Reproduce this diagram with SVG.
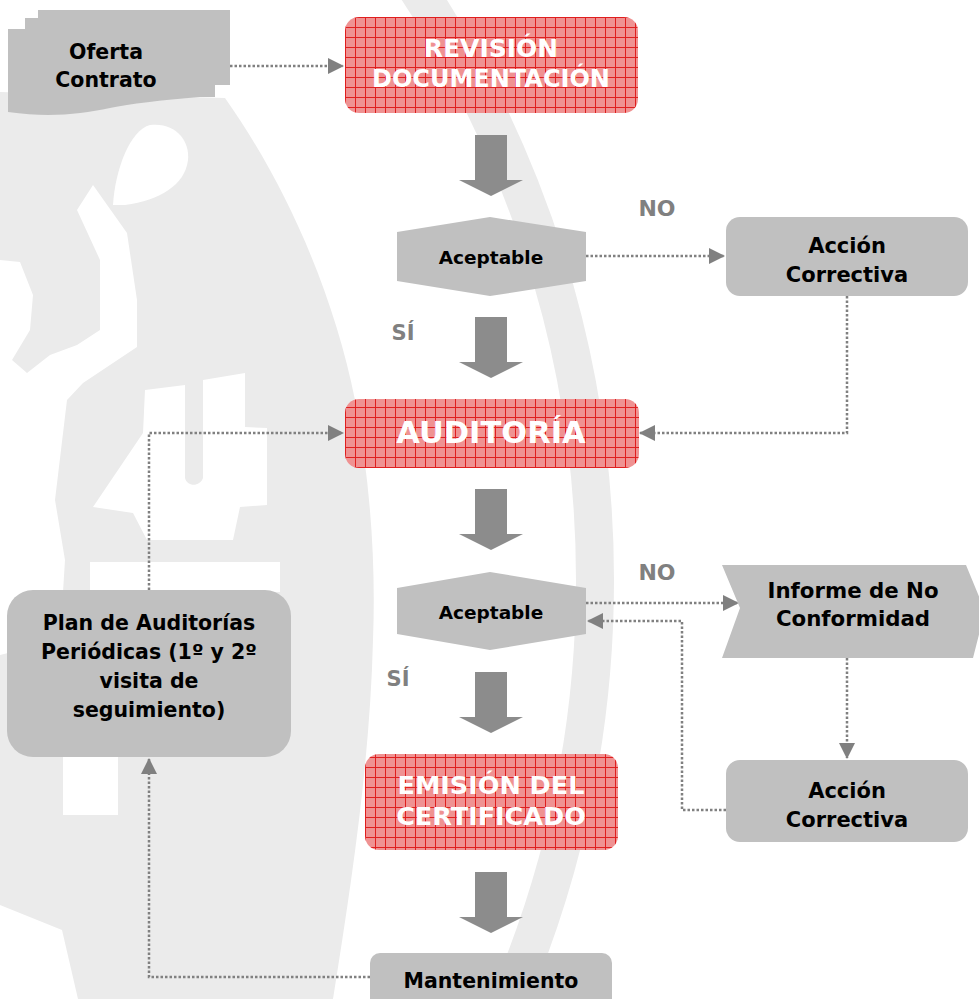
<svg xmlns="http://www.w3.org/2000/svg" width="979" height="999" viewBox="0 0 979 999">
<defs>
<pattern id="grid" patternUnits="userSpaceOnUse" width="10" height="10" x="345" y="17">
<rect width="10" height="10" fill="#ef9292"/>
<rect x="0" y="0" width="10" height="1" fill="#e01e1e"/>
<rect x="0" y="0" width="1" height="10" fill="#e01e1e"/>
</pattern>
<marker id="ah" markerUnits="userSpaceOnUse" markerWidth="16" markerHeight="16" refX="15" refY="8" orient="auto">
<path d="M0,0 L16,8 L0,16 Z" fill="#808080"/>
</marker>
</defs>
<style>
.n{fill:#c0c0c0}
.r{fill:url(#grid)}
.t{font-family:"DejaVu Sans",Verdana,sans-serif;font-weight:bold;text-anchor:middle;fill:#000}
.w{fill:#fff}
.lab{font-family:"DejaVu Sans",Verdana,sans-serif;font-weight:bold;text-anchor:middle;fill:#808080}
.c{fill:none;stroke:#808080;stroke-width:2.5;stroke-dasharray:2.5 2;marker-end:url(#ah)}
.ba{fill:#8c8c8c}
.wm{fill:#ebebeb}
</style>
<rect width="979" height="999" fill="#fff"/>
<g id="watermark">
<circle cx="-475" cy="580" r="1070" fill="none" stroke="#ebebeb" stroke-width="38"/>
<path class="wm" d="M0,92 L225,98 C290,190 335,300 355,400 C370,480 376,560 373,640 C370,760 352,880 333,999 L78,999 L62,930 L0,905 L0,655 L60,640 L65,560 L55,500 L67,400 L83,383 L137,347 L137,300 L127,233 L93,185 L77,210 L100,260 L100,330 L77,345 L50,355 L27,373 L12,360 L30,330 L33,295 L20,262 L0,260 Z"/>
<path class="w" d="M113,205 C115,170 130,130 150,125 C175,122 190,140 188,160 C185,185 160,200 125,205 Z"/>
<path class="w" d="M145,390 L185,385 L185,478 C187,487 200,487 203,478 L203,380 L245,373 L245,427 L267,428 L267,505 L240,507 L233,540 L147,540 L133,513 L93,507 L143,433 Z"/>
<rect class="w" x="90" y="562" width="190" height="30"/>
<rect class="w" x="63" y="757" width="55" height="58"/>
</g>
<g id="connectors">
<path class="c" d="M230,66 H343"/>
<path class="c" d="M586,256 H724"/>
<path class="c" d="M847,296 V433 H640"/>
<path class="c" d="M149,590 V433 H343"/>
<path class="c" d="M586,603 H738"/>
<path class="c" d="M726,810 H682 V621 H588"/>
<path class="c" d="M847,658 V758"/>
<path class="c" d="M370,977 H149 V759"/>
<polygon class="ba" points="475,135 507,135 507,180 523,180 491,196 459,180 475,180"/>
<polygon class="ba" points="475,317 507,317 507,362 523,362 491,378 459,362 475,362"/>
<polygon class="ba" points="475,489 507,489 507,534 523,534 491,550 459,534 475,534"/>
<polygon class="ba" points="475,672 507,672 507,717 523,717 491,733 459,717 475,717"/>
<polygon class="ba" points="475,872 507,872 507,917 523,917 491,933 459,917 475,917"/>
<text class="lab" x="657" y="216" font-size="22">NO</text>
<text class="lab" x="403" y="340" font-size="21">SÍ</text>
<text class="lab" x="657" y="580" font-size="22">NO</text>
<text class="lab" x="398" y="686" font-size="21">SÍ</text>
</g>
<g id="oferta">
<path class="n" d="M38,10 H230 V85 H38 Z"/>
<path class="n" d="M25,18 H215 V97 H25 Z"/>
<path class="n" d="M8,29 H200 V97 C160,100 130,104 110,108 C80,114 50,118 8,112 Z"/>
<text class="t" x="106" y="59" font-size="20.5">Oferta</text>
<text class="t" x="106" y="87" font-size="20.5">Contrato</text>
</g>
<g id="revision">
<rect class="r" x="345" y="17" width="293" height="96" rx="14"/>
<text class="t w" x="491" y="57" font-size="25">REVISIÓN</text>
<text class="t w" x="491" y="87" font-size="24">DOCUMENTACIÓN</text>
</g>
<g id="aceptable1">
<polygon class="n" points="397,232 490,217 586,232 586,281 490,296 397,281"/>
<text class="t" x="491" y="264" font-size="18.5">Aceptable</text>
</g>
<g id="accion1">
<rect class="n" x="726" y="217" width="242" height="79" rx="14"/>
<text class="t" x="847" y="253" font-size="21">Acción</text>
<text class="t" x="847" y="282" font-size="21">Correctiva</text>
</g>
<g id="auditoria">
<rect class="r" x="345" y="399" width="294" height="69" rx="14"/>
<text class="t w" x="491" y="443" font-size="30.5">AUDITORÍA</text>
</g>
<g id="aceptable2">
<polygon class="n" points="397,588 490,572 586,588 586,634 490,650 397,634"/>
<text class="t" x="491" y="619" font-size="18.5">Aceptable</text>
</g>
<g id="informe">
<polygon class="n" points="722,565 966,565 985,611 973,658 722,658 740,608"/>
<text class="t" x="853" y="598" font-size="21.3">Informe de No</text>
<text class="t" x="853" y="626" font-size="21.3">Conformidad</text>
</g>
<g id="accion2">
<rect class="n" x="726" y="760" width="242" height="82" rx="14"/>
<text class="t" x="847" y="798" font-size="21">Acción</text>
<text class="t" x="847" y="827" font-size="21">Correctiva</text>
</g>
<g id="plan">
<rect class="n" x="7" y="590" width="284" height="167" rx="26"/>
<text class="t" x="149" y="630" font-size="20.5">Plan de Auditorías</text>
<text class="t" x="149" y="659" font-size="20.5">Periódicas (1º y 2º</text>
<text class="t" x="149" y="688" font-size="20.5">visita de</text>
<text class="t" x="149" y="717" font-size="20.5">seguimiento)</text>
</g>
<g id="emision">
<rect class="r" x="365" y="754" width="253" height="96" rx="14"/>
<text class="t w" x="491" y="794" font-size="25.5">EMISIÓN DEL</text>
<text class="t w" x="491" y="825" font-size="25.5">CERTIFICADO</text>
</g>
<g id="mantenimiento">
<rect class="n" x="370" y="953" width="242" height="60" rx="10"/>
<text class="t" x="491" y="988" font-size="20.5">Mantenimiento</text>
</g>
</svg>
